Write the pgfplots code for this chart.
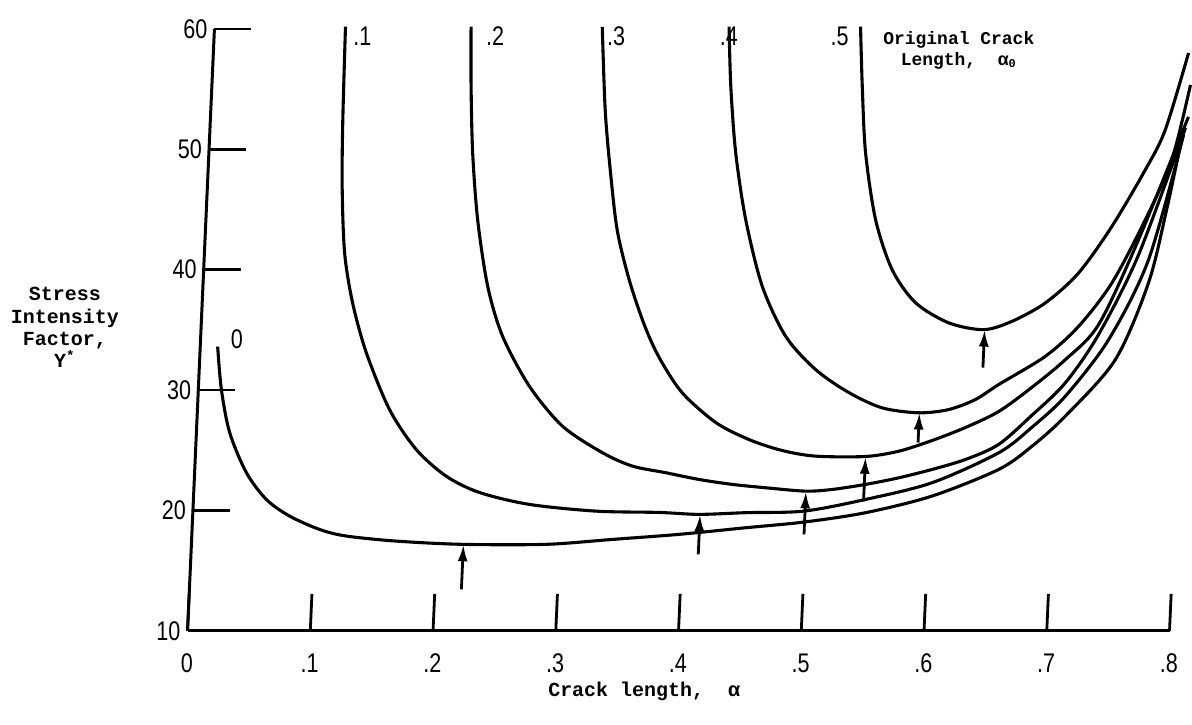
\documentclass[border=0pt]{standalone}
\usepackage{fontspec}
\setmainfont{Liberation Sans}
\newfontfamily\tickfont{Liberation Sans}[FakeStretch=0.8]
\newfontfamily\monofont{Liberation Mono}
\usepackage{pgfplots}
\pgfplotsset{compat=1.18}
\usetikzlibrary{arrows.meta}

\begin{document}
\begin{tikzpicture}
\begin{axis}[
    % the scanned figure is slightly sheared, so the y unit vector leans right
    x={(614.5pt,0pt)}, y={(0.269pt,6.025pt)},
    xmin=0, xmax=0.8, ymin=10, ymax=60,
    axis lines*=left,
    axis line style={line width=1.5pt},
    clip=false,
    xtick={0,0.1,0.2,0.3,0.4,0.5,0.6,0.7,0.8},
    xticklabels={0,.1,.2,.3,.4,.5,.6,.7,.8},
    ytick={10,20,30,40,50,60},
    yticklabels={10,20,30,40,50,60},
    tick align=inside,
    major tick length=18.5pt,
    tick style={line width=1.4pt,black},
    tick label style={font=\tickfont\fontsize{13.5}{13.5}\selectfont},
    xticklabel style={yshift=-8pt},
    every axis plot/.append style={line width=1.55pt,black},
]
% original crack length 0
\addplot[smooth] coordinates {
    (0.0142,33.61) (0.0188,30.04) (0.0271,26.47) (0.0421,23.15) (0.0594,20.91)
    (0.0789,19.53) (0.1038,18.42) (0.1258,17.87) (0.1667,17.45) (0.2207,17.18)
    (0.2889,17.18) (0.3429,17.59) (0.3970,18.01) (0.4510,18.56) (0.4982,19.03)
    (0.5481,19.81) (0.6016,21.19) (0.6549,23.40) (0.6810,25.31) (0.7073,27.83)
    (0.7460,32.53) (0.7702,38.90) (0.7823,44.98) (0.7919,50.79)
};
% .1
\addplot[smooth] coordinates {
    (0.1067,60.2) (0.1079,52.45) (0.1098,46.91) (0.1142,41.41) (0.1225,37.26)
    (0.1355,33.11) (0.1565,28.38) (0.1797,25.06) (0.2050,22.85) (0.2327,21.49)
    (0.2738,20.50) (0.3283,19.94) (0.3799,19.83) (0.4125,19.67) (0.4504,19.81)
    (0.4978,19.94) (0.5476,20.91) (0.6012,22.30) (0.6544,24.79) (0.6803,26.89)
    (0.7066,29.49) (0.7398,34.19) (0.7694,40.83) (0.7934,51.20)
};
% .2
\addplot[smooth] coordinates {
    (0.2090,60.19) (0.2112,55.21) (0.2149,49.71) (0.2214,44.15) (0.2320,38.62)
    (0.2460,34.46) (0.2696,30.32) (0.2980,27.00) (0.3316,24.79) (0.3565,23.68)
    (0.3839,23.13) (0.4112,22.57) (0.4385,22.16) (0.4658,21.88) (0.4985,21.60)
    (0.5200,21.74) (0.5470,22.16) (0.5739,22.71) (0.6006,23.40) (0.6275,24.23)
    (0.6540,25.48) (0.6798,27.88) (0.7061,30.60) (0.7314,34.61) (0.7611,41.24)
    (0.7947,51.78)
};
% .3
\addplot[smooth] coordinates {
    (0.3159,60.17) (0.3213,53.28) (0.3276,48.30) (0.3354,43.32) (0.3470,39.17)
    (0.3609,35.44) (0.3743,32.70) (0.3942,29.79) (0.4228,27.30) (0.4504,25.89)
    (0.4777,24.98) (0.5053,24.51) (0.5460,24.48) (0.5729,24.92) (0.5997,25.81)
    (0.6264,26.89) (0.6529,28.22) (0.6788,30.21) (0.7053,32.53) (0.7311,35.44)
    (0.7605,42.49) (0.7967,52.70)
};
% .4
\addplot[smooth] coordinates {
    (0.4192,60.19) (0.4228,55.21) (0.4292,49.71) (0.4398,44.15) (0.4557,38.62)
    (0.4766,34.46) (0.5022,31.70) (0.5301,29.79) (0.5578,28.52) (0.5878,28.11)
    (0.6121,28.38) (0.6334,29.21) (0.6519,30.46) (0.6888,32.80) (0.7149,35.30)
    (0.7404,38.90) (0.7653,44.15) (0.7847,49.13) (0.7972,55.35)
};
% .5
\addplot[smooth] coordinates {
    (0.5263,60.2) (0.5299,55.21) (0.5350,49.71) (0.5456,44.15) (0.5609,40.00)
    (0.5811,37.26) (0.6090,35.58) (0.6377,35.02) (0.6604,35.71) (0.6869,37.24)
    (0.7129,39.73) (0.7383,43.59) (0.7635,48.30) (0.7783,51.62) (0.7945,58.01)
};

% arrows marking the minimum of each curve
\pgfplotsset{minarrow/.style={-{Latex[length=8.5pt,width=5pt]},line width=1.4pt}}
\addplot[minarrow] coordinates {(0.2216,13.44) (0.2216,17.18)};
\addplot[minarrow] coordinates {(0.4133,16.35) (0.4133,19.67)};
\addplot[minarrow] coordinates {(0.4987,18.01) (0.4987,21.58)};
\addplot[minarrow] coordinates {(0.5460,20.75) (0.5460,24.45)};
\addplot[minarrow] coordinates {(0.5883,25.64) (0.5883,28.13)};
\addplot[minarrow] coordinates {(0.6384,31.87) (0.6384,35.02)};

% curve labels
\node[font=\tickfont\fontsize{13.5}{13.5}\selectfont] at (axis cs:0.0295,34.2) {0};
\node[font=\tickfont\fontsize{13.5}{13.5}\selectfont,anchor=west,inner sep=0pt] at (axis cs:0.1131,59.4) {.1};
\node[font=\tickfont\fontsize{13.5}{13.5}\selectfont,anchor=west,inner sep=0pt] at (axis cs:0.2213,59.4) {.2};
\node[font=\tickfont\fontsize{13.5}{13.5}\selectfont,anchor=west,inner sep=0pt] at (axis cs:0.3198,59.4) {.3};
\node[font=\tickfont\fontsize{13.5}{13.5}\selectfont,anchor=west,inner sep=0pt] at (axis cs:0.4117,59.4) {.4};
\node[font=\tickfont\fontsize{13.5}{13.5}\selectfont,anchor=west,inner sep=0pt] at (axis cs:0.5020,59.4) {.5};
\node[font=\monofont\bfseries\fontsize{9}{10.5}\selectfont,align=center] at (axis cs:0.6072,58.26)
    {Original Crack\\Length,~~α\textsubscript{0}};

% axis titles
\node[font=\monofont\bfseries\fontsize{10}{11.2}\selectfont,align=center] at (axis cs:-0.111,35.19)
    {Stress\\Intensity\\Factor,\\Y\textsuperscript{*}};
\node[font=\monofont\bfseries\fontsize{10}{11}\selectfont] at (axis cs:0.3742,4.98) {Crack length,~~α};

% frame of the page, as in the scan
\path (axis cs:-0.1494,2.24) rectangle (axis cs:0.7941,62.41);
\end{axis}
\end{tikzpicture}
\end{document}
